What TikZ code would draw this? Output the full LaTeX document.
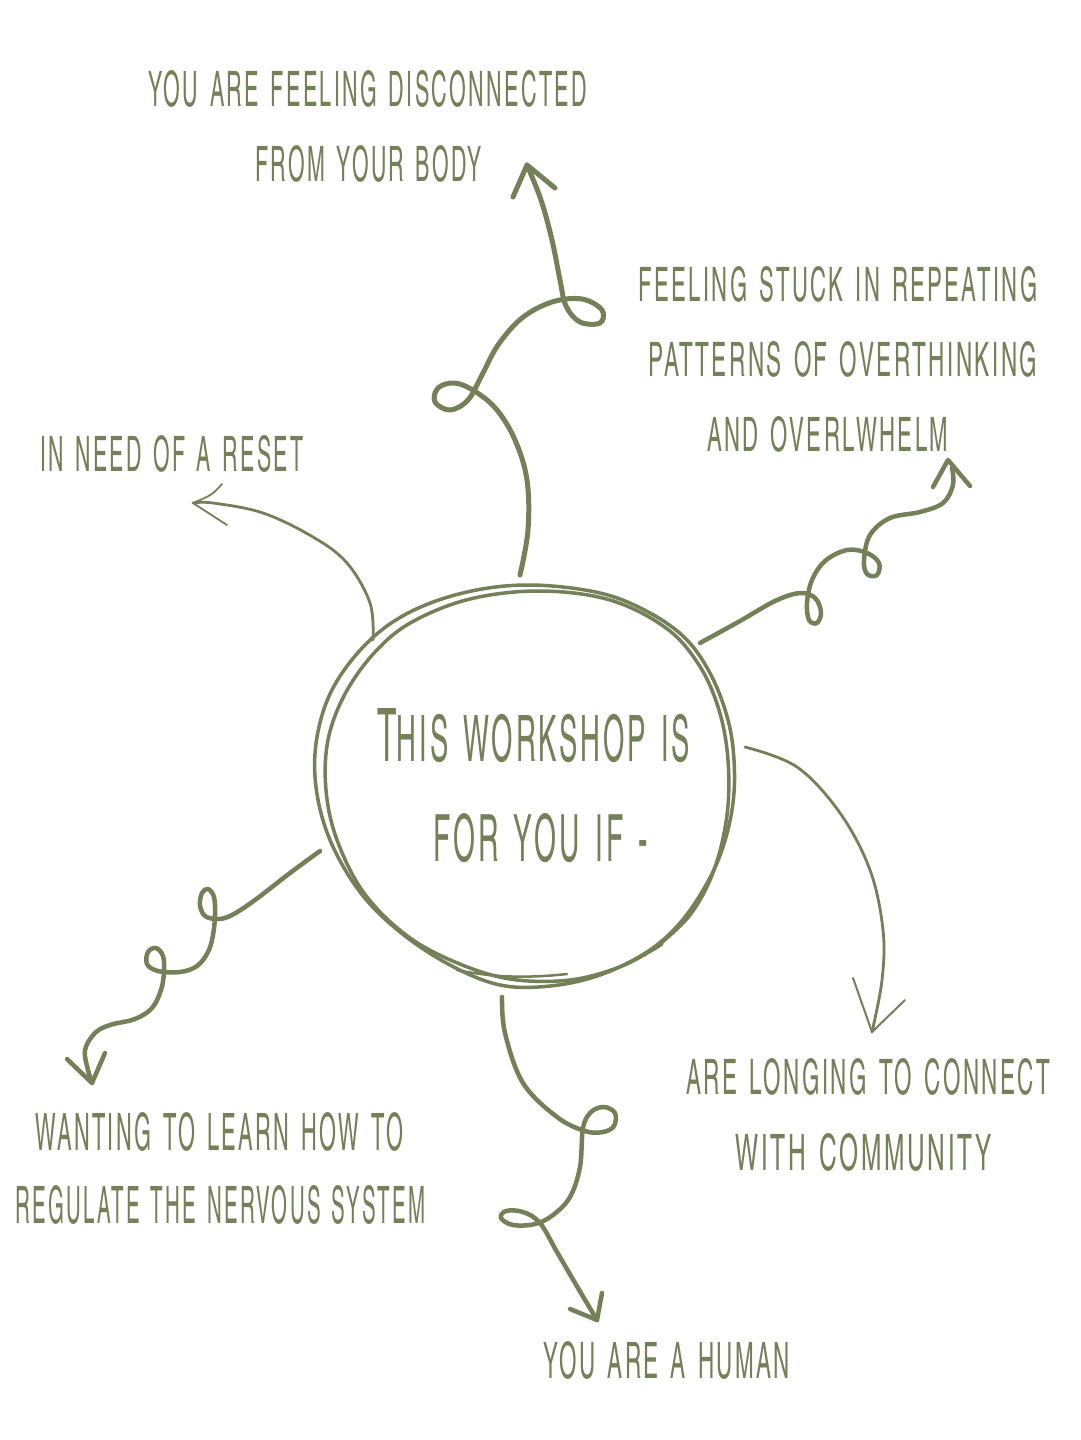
\documentclass[tikz,border=0pt]{standalone}
\usepackage{fontspec}
\usepackage{graphicx}
\IfFontExistsTF{texgyreheroscn-regular.otf}
  {\newfontfamily\hand[LetterSpace=9,WordSpace=1.4]{texgyreheroscn-regular.otf}}
  {\newfontfamily\hand[FakeStretch=0.8,LetterSpace=9,WordSpace=1.4]{Liberation Sans}}
\definecolor{sage}{RGB}{115,128,88}
\newcommand\fitlbl[3]{\resizebox{#1pt}{#2pt}{\hand #3}}
\tikzset{
  lbl/.style={inner sep=0pt, anchor=south west, text=sage},
  swirl/.style={draw=sage, line width=4.5pt, line cap=round, line join=round},
  sketch/.style={draw=sage, line width=2.8pt, line cap=round, line join=round},
  ring/.style={draw=sage, line width=3.5pt, line cap=round, line join=round}
}
\begin{document}
\begin{tikzpicture}[x=1pt,y=-1pt]
\useasboundingbox (0,0) rectangle (1080,1440);
\fill[white] (0,0) rectangle (1080,1440);

% ---- labels ----
\node[lbl] (t1a) at (148,108) {\fitlbl{439}{36}{YOU ARE FEELING DISCONNECTED}};
\node[lbl] (t1b) at (255,183) {\fitlbl{227}{36}{FROM YOUR BODY}};
\node[lbl] (t2a) at (638,303) {\fitlbl{399}{35}{FEELING STUCK IN REPEATING}};
\node[lbl] (t2b) at (648,378) {\fitlbl{389}{35}{PATTERNS OF OVERTHINKING}};
\node[lbl] (t2c) at (707,453) {\fitlbl{241}{35}{AND OVERLWHELM}};
\node[lbl] (t3) at (40,473) {\fitlbl{263}{36}{IN NEED OF A RESET}};
\node[lbl] (t4a) at (686,1096) {\fitlbl{364}{36}{ARE LONGING TO CONNECT}};
\node[lbl] (t4b) at (735,1172) {\fitlbl{257}{37}{WITH COMMUNITY}};
\node[lbl] (t5a) at (35,1152) {\fitlbl{368}{38}{WANTING TO LEARN HOW TO}};
\node[lbl] (t5b) at (15,1225) {\fitlbl{410}{38}{REGULATE THE NERVOUS SYSTEM}};
\node[lbl] (t6) at (543,1380) {\fitlbl{247}{37}{YOU ARE A HUMAN}};
\node[lbl] (ti1) at (377,763) {\resizebox{313pt}{53pt}{\hand\fontsize{53}{53}\selectfont T\fontsize{46}{46}\selectfont HIS WORKSHOP IS}};
\node[lbl] (ti2) at (433,863) {\fitlbl{215}{48}{FOR YOU IF -}};

% ---- central hand-drawn ring ----
\draw[ring] plot[smooth cycle, tension=0.6] coordinates {
 (530,585) (600,593) (650,613) (687,640) (712,677) (728,720) (734,760)
 (733,803) (723,847) (706,885) (680,923) (647,952) (600,975) (550,986)
 (500,985) (450,965) (400,932) (360,892) (330,840) (316,787) (317,737)
 (333,688) (367,643) (410,612) (467,592)};
\draw[ring] plot[smooth, tension=0.6] coordinates {
 (655,948) (690,915) (714,870) (727,815) (728,760) (719,710) (699,665)
 (666,628) (610,600) (540,591) (470,599) (412,622) (375,652) (345,694)
 (328,740) (326,790) (337,840) (364,893) (406,935) (455,962) (510,979)
 (570,980) (622,966) (662,944)};
\draw[ring, line width=2.5pt] (457,970) .. controls (495,978) and (530,978) .. (567,974);

% ---- anchor points ----
\coordinate (c1) at (520,575);  \coordinate (e1) at (527,165);
\coordinate (c2) at (700,643);  \coordinate (e2) at (948,460);
\coordinate (c3) at (373,640);  \coordinate (e3) at (193,503);
\coordinate (c4) at (745,747);  \coordinate (e4) at (872,1032);
\coordinate (c5) at (320,851);  \coordinate (e5) at (92,1083);
\coordinate (c6) at (502,997);  \coordinate (e6) at (597,1320);

% ---- arrow 1: up ----
\draw[swirl, line width=5pt] plot[smooth, tension=0.6] coordinates {(c1)
 (528,530) (527,480) (515,440) (497,410) (476,392) (455,383) (438,388)
 (435,402) (450,410) (468,400) (482,375) (498,345) (522,318) (552,302)
 (582,299) (602,310) (600,323) (580,322) (566,306) (560,280) (552,240)
 (541,200) (e1)};
\draw[swirl, line width=5pt] (513,197) -- (e1) -- (555,188);

% ---- arrow 2: up-right ----
\draw[swirl] plot[smooth, tension=0.6] coordinates {(c2)
 (740,621) (775,601) (800,593) (815,598) (821,612) (817,623) (809,620)
 (807,603) (812,580) (825,561) (847,550) (867,553) (879,563) (877,575)
 (867,574) (864,560) (870,535) (890,518) (920,512) (943,503) (953,485)
 (952,468)};
\draw[swirl] (933,487) -- (e2) -- (970,486);

% ---- arrow 3: thin to reset ----
\draw[sketch] plot[smooth, tension=0.6] coordinates {(c3)
 (370,603) (347,563) (313,537) (263,513) (213,503) (e3)};
\draw[sketch, line width=1.8pt] (222,484) .. controls (212,495) .. (e3) -- (227,525);

% ---- arrow 4: thin to community ----
\draw[sketch] plot[smooth, tension=0.6] coordinates {(c4)
 (797,767) (840,813) (870,870) (883,930) (882,980) (e4)};
\draw[sketch, line width=2pt] (853,978) -- (e4) -- (905,1000);

% ---- arrow 5: down-left ----
\draw[swirl] plot[smooth, tension=0.6] coordinates {(c5)
 (290,873) (255,900) (232,915) (218,919) (205,916) (200,905) (202,893)
 (208,889) (214,897) (215,915) (213,935) (208,952) (197,966) (180,972)
 (158,971) (147,964) (148,952) (156,948) (163,956) (164,972) (161,990)
 (152,1008) (135,1019) (110,1025) (95,1033) (85,1050) (88,1070) (e5)};
\draw[swirl] (67,1059) -- (e5) -- (105,1053);

% ---- arrow 6: down ----
\draw[swirl] plot[smooth, tension=0.6] coordinates {(c6)
 (505,1033) (523,1083) (557,1117) (585,1131) (603,1132) (614,1126)
 (615,1113) (604,1107) (591,1112) (583,1128) (580,1167) (570,1197)
 (553,1215) (535,1224) (513,1225) (501,1218) (506,1211) (523,1212)
 (540,1223) (557,1252) (578,1288) (e6)};
\draw[swirl] (570,1309) -- (e6) -- (602,1293);
\end{tikzpicture}
\end{document}
